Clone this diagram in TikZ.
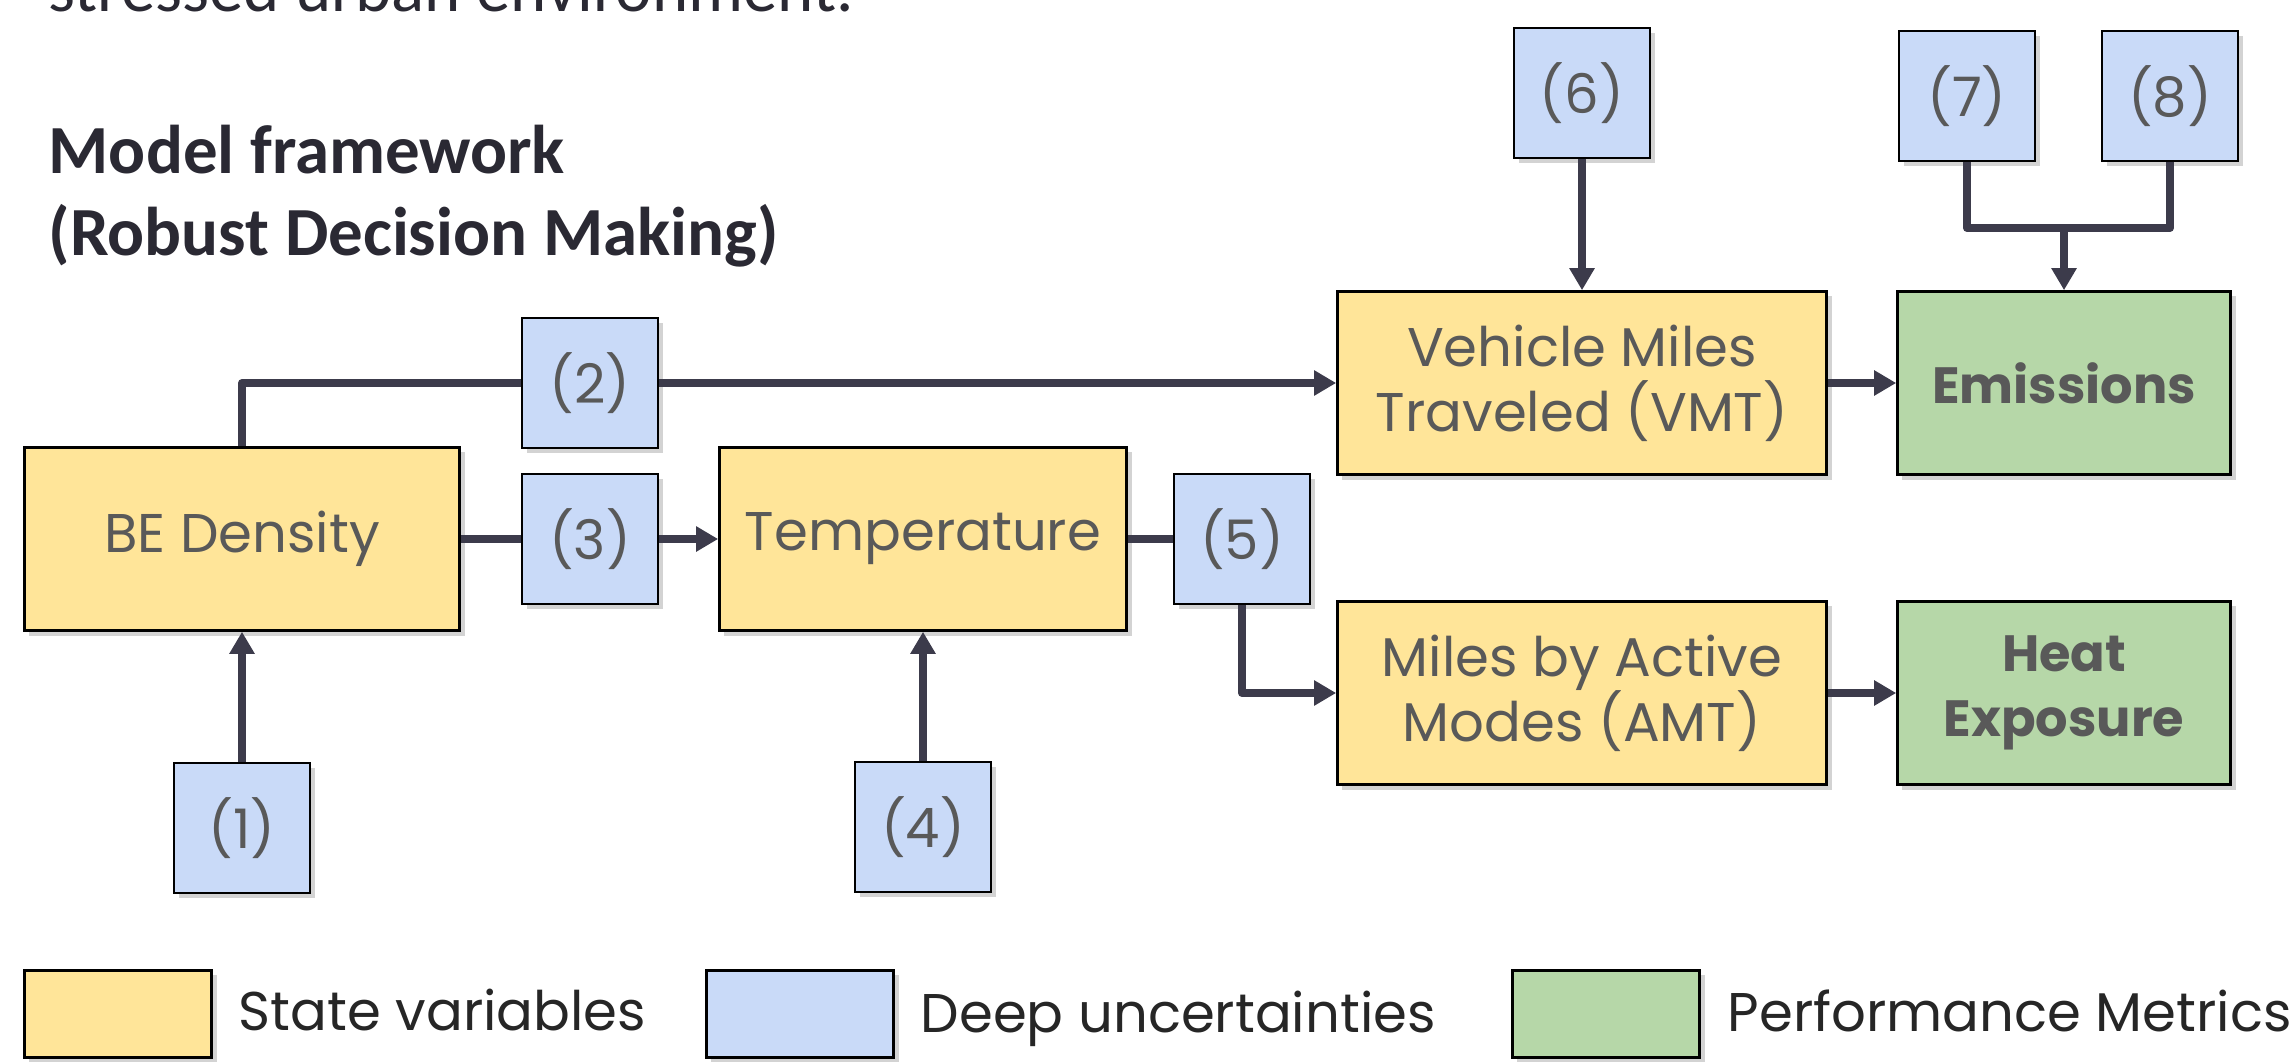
\documentclass[tikz,border=0pt]{standalone}
\usepackage{fontspec}
\setmainfont{Poppins}
\newfontfamily\headfont{Carlito}
\usetikzlibrary{arrows.meta,shadows}
\definecolor{stateyellow}{HTML}{FFE599}
\definecolor{uncblue}{HTML}{C9DAF8}
\definecolor{metricgreen}{HTML}{B6D7A8}
\definecolor{linkgray}{HTML}{3C3B4B}
\definecolor{textgray}{HTML}{595959}
\definecolor{headdark}{HTML}{2A2933}

\begin{document}
\begin{tikzpicture}[x=0.01cm,y=-0.01cm,
every node/.style={font=\fontsize{15.5}{18.5}\selectfont,text=textgray,align=center},
box/.style={draw=black,line width=0.7pt,inner sep=0pt,
  drop shadow={shadow xshift=0.05cm,shadow yshift=-0.05cm,opacity=0.35}},
statebox/.style={box,fill=stateyellow,minimum width=#1cm,minimum height=1.83cm},
uncbox/.style={box,fill=uncblue,minimum width=1.36cm,minimum height=1.3cm},
metricbox/.style={box,fill=metricgreen,minimum width=3.33cm,minimum height=1.83cm,
  font=\fontsize{14.5}{18.5}\selectfont\bfseries},
keybox/.style={box,fill=#1,minimum width=1.87cm,minimum height=0.87cm},
keytext/.style={anchor=base west,inner sep=0pt,text=black!85},
heading/.style={anchor=base west,inner sep=0pt,text=headdark,
  font=\headfont\fontsize{19.6}{23}\selectfont},
link/.style={draw=linkgray,line width=0.08cm,line join=round},
flow/.style={link,-{Triangle[length=0.22cm,width=0.24cm]}}]
\useasboundingbox (0,0) rectangle (2289,1061);
\node[heading] (intro) at (48,12) {stressed urban environment.};
\node[heading,font=\headfont\bfseries\fontsize{19.6}{23}\selectfont] (title) at (48,174) {Model framework};
\node[heading,font=\headfont\bfseries\fontsize{19.6}{23}\selectfont] (subtitle) at (48,256) {(Robust Decision Making)};
% state variables and metrics
\node[statebox=4.35] (bed) at (242,539) {BE Density};
\node[statebox=4.07] (temp) at (923,539) {Temperature};
\node[statebox=4.89] (vmt) at (1582,383) {Vehicle Miles\\Traveled (VMT)};
\node[statebox=4.89] (amt) at (1582,693) {Miles by Active\\Modes (AMT)};
\node[metricbox] (emis) at (2064,383) {Emissions};
\node[metricbox] (heat) at (2064,693) {Heat\\Exposure};
% deep uncertainties
\node[uncbox] (u1) at (242,828) {(1)};
\node[uncbox] (u2) at (590,383) {(2)};
\node[uncbox] (u3) at (590,539) {(3)};
\node[uncbox] (u4) at (923,827) {(4)};
\node[uncbox] (u5) at (1242,539) {(5)};
\node[uncbox] (u6) at (1582,93) {(6)};
\node[uncbox] (u7) at (1967,96) {(7)};
\node[uncbox] (u8) at (2170,96) {(8)};
\coordinate (merge) at (2064,228);
\draw[link] (bed.north) |- (u2.west);
\draw[flow] (u2.east) -- (vmt.west);
\draw[link] (bed.east) -- (u3.west);
\draw[flow] (u3.east) -- (temp.west);
\draw[link] (temp.east) -- (u5.west);
\draw[flow] (u5.south) |- (amt.west);
\draw[flow] (u1.north) -- (bed.south);
\draw[flow] (u4.north) -- (temp.south);
\draw[flow] (u6.south) -- (vmt.north);
\draw[link] (u7.south) |- (merge) -| (u8.south);
\draw[flow] (merge) -- (emis.north);
\draw[flow] (vmt.east) -- (emis.west);
\draw[flow] (amt.east) -- (heat.west);
% legend
\node[keybox=stateyellow] (keystate) at (118,1014) {};
\node[keytext] (keystatetext) at (238,1030) {State variables};
\node[keybox=uncblue] (keyunc) at (800,1014) {};
\node[keytext] (keyunctext) at (920,1032) {Deep uncertainties};
\node[keybox=metricgreen] (keymetric) at (1606,1014) {};
\node[keytext] (keymetrictext) at (1727,1031) {Performance Metrics};
\end{tikzpicture}
\end{document}
